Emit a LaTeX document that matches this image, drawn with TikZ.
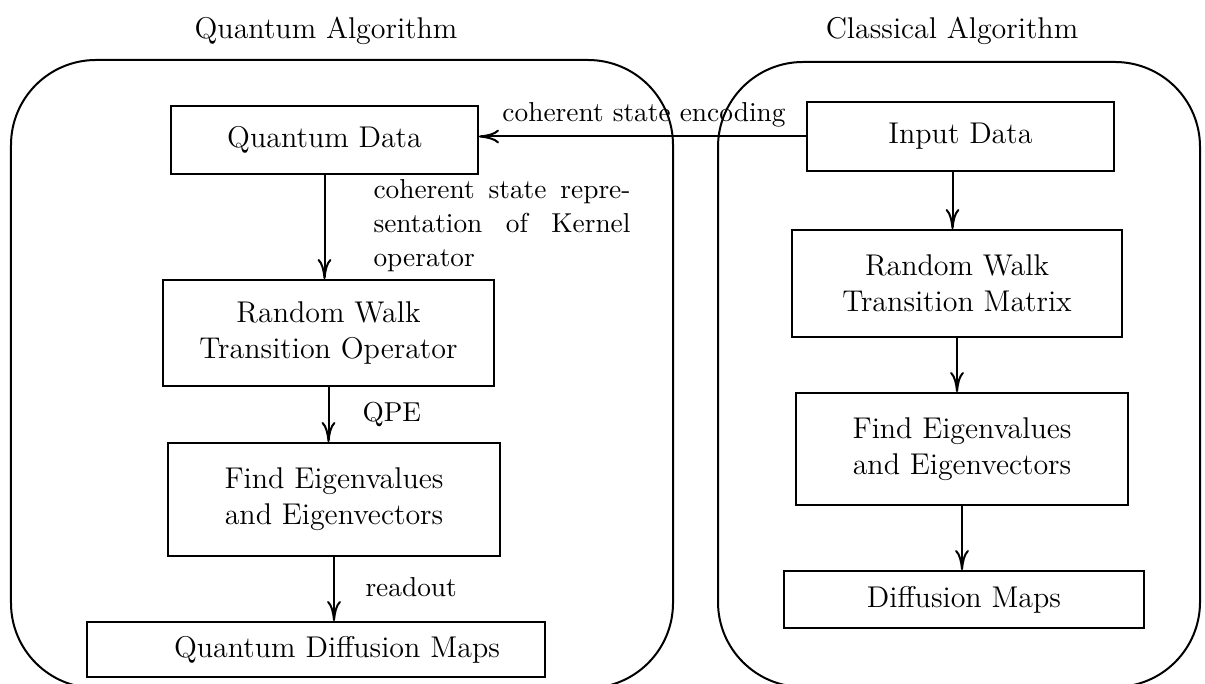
\documentclass[tikz,border=0pt,12pt]{standalone}
\usetikzlibrary{arrows.meta}
\tikzset{
  box/.style={draw, line width=0.8pt, inner sep=0pt, align=center, font=\normalsize},
  panel/.style={draw, line width=0.8pt, rounded corners=34pt, inner sep=0pt},
  flow/.style={line width=0.8pt, -{To[length=8pt,width=5.5pt]}},
  tag/.style={font=\small, inner sep=0pt},
  title/.style={font=\normalsize, inner sep=0pt, anchor=base},
}
\begin{document}
\begin{tikzpicture}[x=0.4pt, y=-0.4pt]
\useasboundingbox (0,0) rectangle (1205,684);

% the two algorithm panels (their lower edges run off the page)
\node[panel, minimum width=264.8pt, minimum height=251.2pt] (qpanel) at (342,374) {};
\node[panel, minimum width=192.8pt, minimum height=250pt] (cpanel) at (959,374.5) {};
\node[title] (qtitle) at (326,39) {Quantum Algorithm};
\node[title] (ctitle) at (952,39) {Classical Algorithm};

% quantum pipeline
\node[box, minimum width=122.8pt, minimum height=27.2pt] (qdata) at (324.5,140) {Quantum Data};
\node[box, minimum width=132.4pt, minimum height=42.4pt] (qwalk) at (328.5,333) {Random Walk\\Transition Operator};
\node[box, minimum width=132.8pt, minimum height=45.2pt] (qeig) at (334,499.5) {Find Eigenvalues\\and Eigenvectors};
\node[box, align=right, text width=147.2pt, inner xsep=18pt, minimum height=22pt] (qmaps) at (316,649.5) {Quantum Diffusion Maps};

% classical pipeline
\node[box, minimum width=122.8pt, minimum height=27.6pt] (cdata) at (960.5,136.5) {Input Data};
\node[box, minimum width=132pt, minimum height=42.8pt] (cwalk) at (957,283.5) {Random Walk\\Transition Matrix};
\node[box, minimum width=132.8pt, minimum height=44.8pt] (ceig) at (962,449) {Find Eigenvalues\\and Eigenvectors};
\node[box, minimum width=144pt, minimum height=22.8pt] (cmaps) at (964,599.5) {Diffusion Maps};

% connectors
\draw[flow] (cdata.west) -- (cdata.west -| qdata.east);
\draw[flow] (qdata.south) -- (qdata.south |- qwalk.north);
\draw[flow] (qwalk.south) -- (qwalk.south |- qeig.north);
\draw[flow] (qeig.south) -- (qeig.south |- qmaps.north);
\draw[flow] ([xshift=-3.2pt]cdata.south) -- ([xshift=-3.2pt]cdata.south |- cwalk.north);
\draw[flow] (cwalk.south) -- (cwalk.south |- ceig.north);
\draw[flow] (ceig.south) -- (ceig.south |- cmaps.north);

% connector labels
\node[tag, anchor=base] (encl) at (644,122) {coherent state encoding};
\node[tag, anchor=north west, text width=102.8pt, align=justify] (kernl) at (373,179)
  {coherent state repre\-sentation of Kernel operator};
\node[tag, anchor=base west] (qpel) at (362,422) {QPE};
\node[tag, anchor=base west] (readl) at (365,597) {readout};
\end{tikzpicture}
\end{document}
